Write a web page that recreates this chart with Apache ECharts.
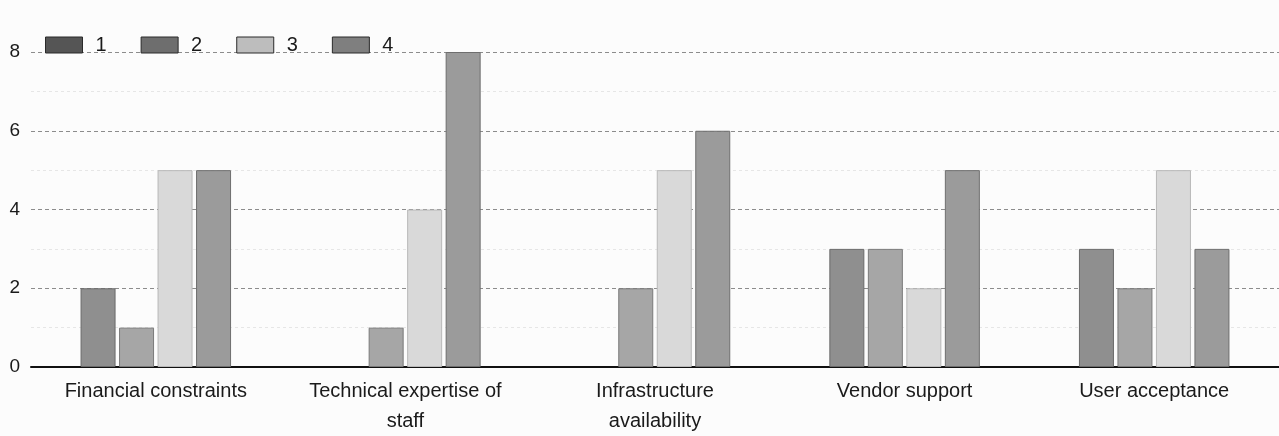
<!DOCTYPE html>
<html>
<head>
<meta charset="utf-8">
<script src="https://cdn.jsdelivr.net/npm/echarts@6/dist/echarts.min.js"></script>
<style>
  html, body { margin: 0; padding: 0; background: #fcfcfc; }
  #chart { width: 1279px; height: 436px; }
</style>
</head>
<body>
<div id="chart"></div>
<script>
// Barriers to adoption, count of responses per rating level (1-4)
const categories = [
  'Financial constraints',
  'Technical expertise of\nstaff',
  'Infrastructure\navailability',
  'Vendor support',
  'User acceptance'
];
const seriesNames = ['1', '2', '3', '4'];
const level1 = [2, 0, 0, 3, 3];
const level2 = [1, 1, 2, 3, 2];
const level3 = [5, 4, 5, 2, 5];
const level4 = [5, 8, 6, 5, 3];
const yTicks = [0, 2, 4, 6, 8];

const barFills = ['#8f8f8f', '#a6a6a6', '#d9d9d9', '#9b9b9b'];
const barEdges = ['#6a6a6a', '#7a7a7a', '#b8b8b8', '#6e6e6e'];
const swatchFills = ['#555555', '#6e6e6e', '#bdbdbd', '#7f7f7f'];

const values = [level1, level2, level3, level4];
const font = '"Liberation Sans", Arial, sans-serif';

const chart = echarts.init(document.getElementById('chart'), null, { renderer: 'canvas' });

chart.setOption({
  backgroundColor: '#fcfcfc',
  animation: false,
  textStyle: { fontFamily: font, color: '#222' },
  legend: {
    left: 40,
    top: 30,
    itemWidth: 37,
    itemHeight: 16,
    itemGap: 34,
    icon: 'rect',
    textStyle: { fontSize: 20, color: '#1a1a1a', padding: [0, 0, 0, 8] },
    data: seriesNames.map((n, i) => ({
      name: n,
      itemStyle: { color: swatchFills[i], borderColor: '#2a2a2a', borderWidth: 1 }
    }))
  },
  grid: { left: 31, top: 52, width: 1252, height: 318, containLabel: false },
  xAxis: {
    type: 'category',
    data: categories,
    axisLine: { lineStyle: { color: '#111', width: 2 } },
    axisTick: { show: false },
    axisLabel: { fontSize: 20, color: '#1a1a1a', margin: 9, lineHeight: 30, interval: 0 }
  },
  yAxis: {
    type: 'value',
    min: yTicks[0],
    max: yTicks[yTicks.length - 1],
    interval: 2,
    axisLine: { show: false },
    axisTick: { show: false },
    axisLabel: { fontSize: 19, color: '#1a1a1a', margin: 11 },
    splitLine: { lineStyle: { color: '#8c8c8c', type: [4, 3], width: 1 } },
    minorTick: { show: false, splitNumber: 2 },
    minorSplitLine: { show: true, lineStyle: { color: '#e6e6e6', type: [3, 3], width: 1 } }
  },
  series: seriesNames.map((n, i) => ({
    name: n,
    type: 'bar',
    // empty counts get no outline so nothing is drawn on the axis
    data: values[i].map(v => (v === 0 ? { value: v, itemStyle: { borderWidth: 0 } } : v)),
    barWidth: 35,
    barGap: '10%',
    itemStyle: { color: barFills[i], borderColor: barEdges[i], borderWidth: 1 }
  }))
});
</script>
</body>
</html>
